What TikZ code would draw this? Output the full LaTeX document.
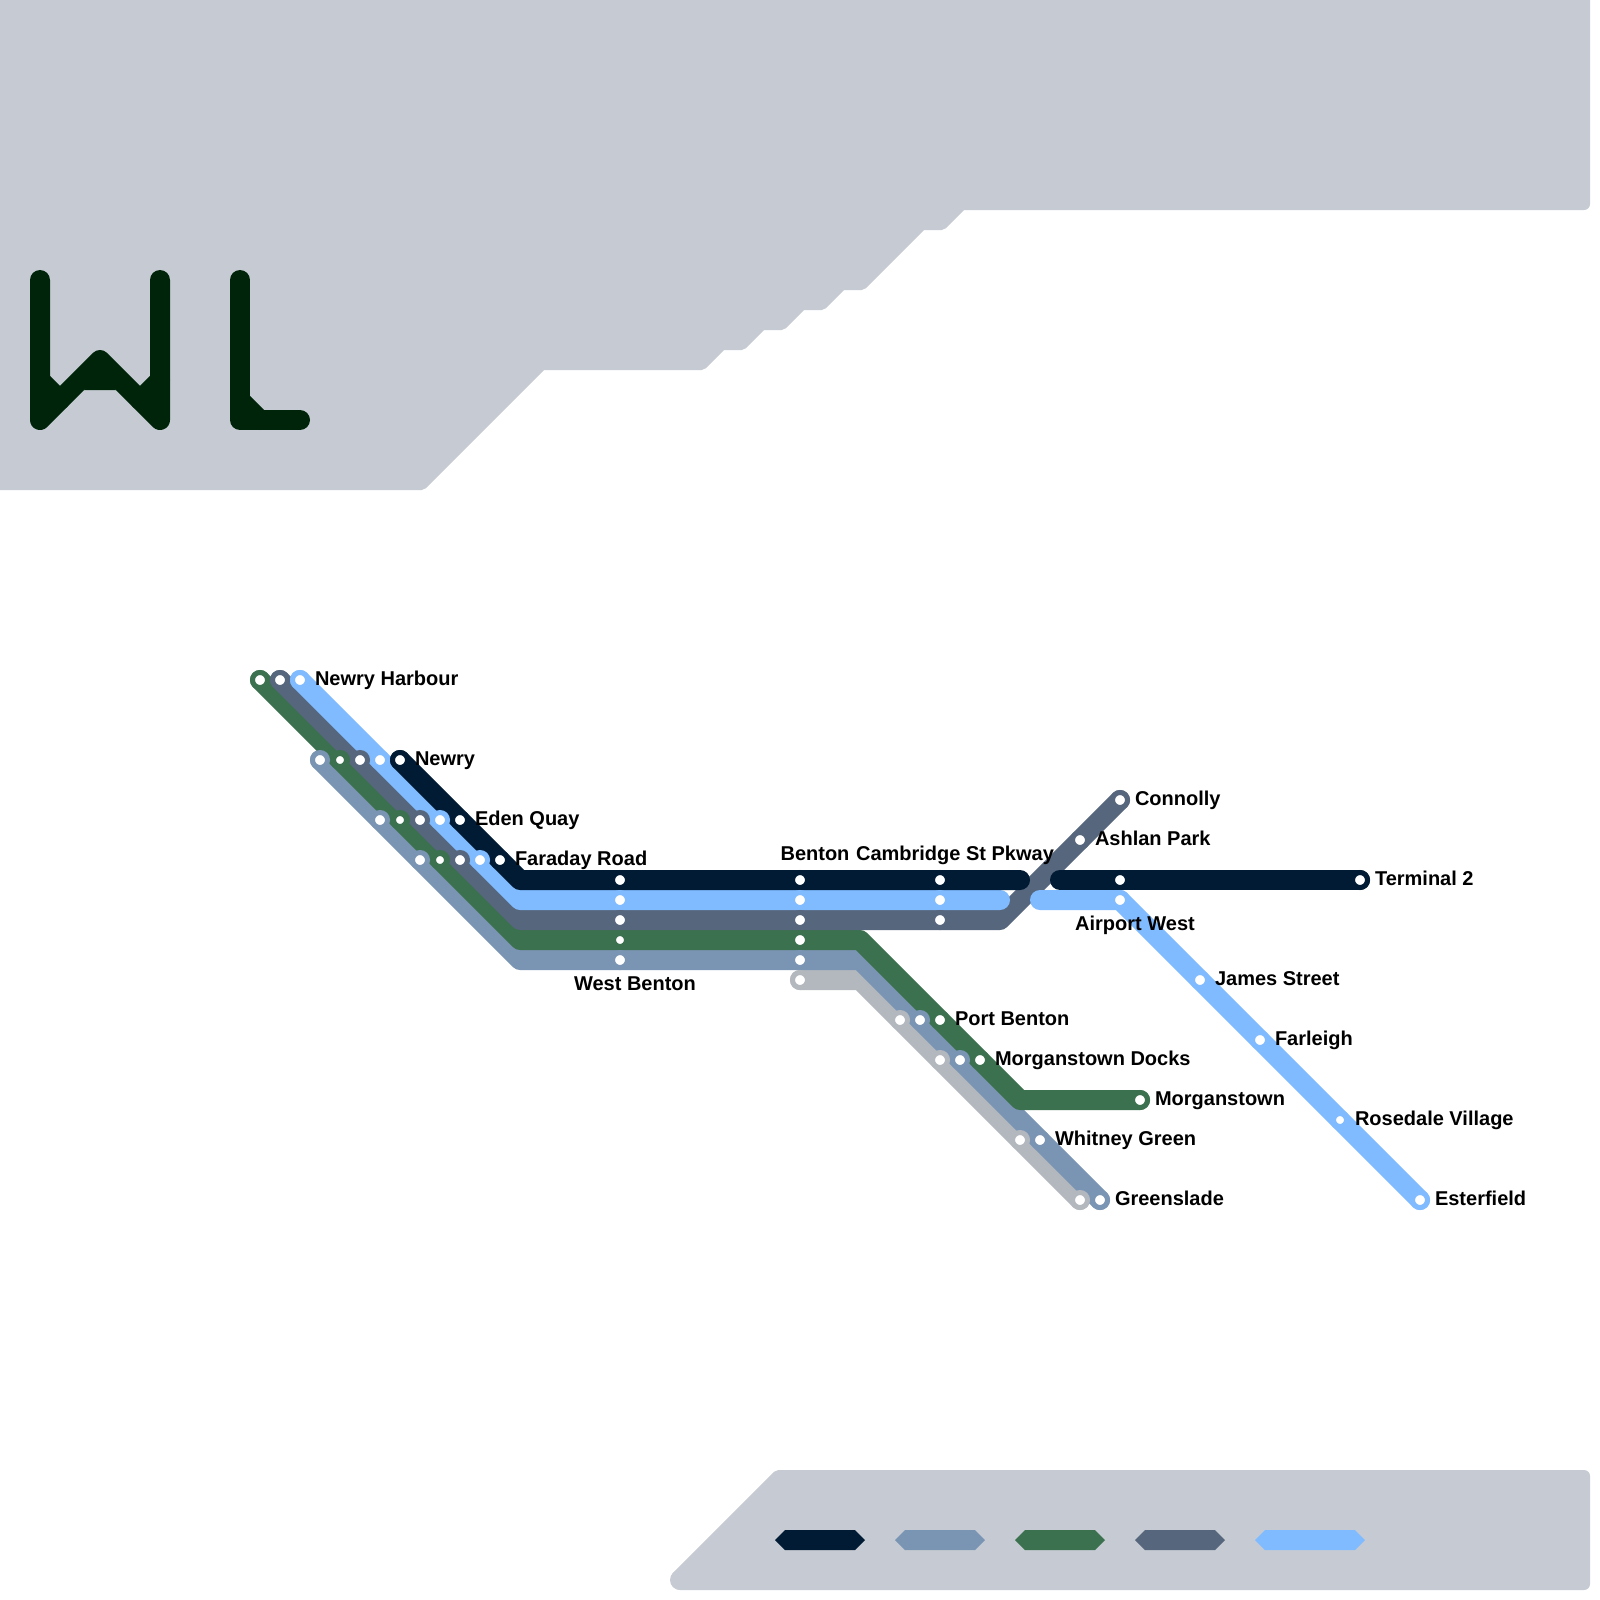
\documentclass[tikz,border=0pt]{standalone}
\usepackage{fontspec}
\setmainfont{Liberation Sans}
\usetikzlibrary{backgrounds}
\definecolor{navyline}{HTML}{001B33}
\definecolor{steelline}{HTML}{7A94B3}
\definecolor{greenline}{HTML}{3B714E}
\definecolor{slateline}{HTML}{56667D}
\definecolor{skyline}{HTML}{80BBFF}
\definecolor{greyline}{HTML}{B3B8BE}
\definecolor{panelgrey}{HTML}{C6CBD3}
\definecolor{logogreen}{HTML}{002409}
\tikzset{
	stop/.style={circle,fill=white,draw=#1,inner sep=0pt,outer sep=0pt,minimum size=15pt,line width=5pt},
	smallstop/.style={stop=#1,minimum size=14pt,line width=6pt},
	band/.style={line width=20pt,line cap=round,line join=round},
	panel/.style={fill=panelgrey,draw=panelgrey,line width=12pt,line join=round},
	swatch/.style={fill=#1,draw=none},
	stoptext/.style={inner sep=0pt,outer sep=0pt,font=\fontsize{20}{24}\selectfont\bfseries,anchor=base west},
	midtext/.style={stoptext,anchor=base},
}
\begin{document}
\begin{tikzpicture}[x=1pt,y=-1pt]
	\useasboundingbox (0,0) rectangle (1600,1600);
	% navy stops
	\node[stop=navyline] (navyNewry) at (400,760) {};
	\node[stop=navyline] (navyEden) at (460,820) {};
	\node[stop=navyline] (navyFaraday) at (500,860) {};
	\node[stop=navyline] (navyWest) at (620,880) {};
	\node[stop=navyline] (navyBenton) at (800,880) {};
	\node[stop=navyline] (navyCambridge) at (940,880) {};
	\node[stop=navyline] (navyAirport) at (1120,880) {};
	\node[stop=navyline] (navyTerminal) at (1360,880) {};
	% sky stops
	\node[stop=skyline] (skyHarbour) at (300,680) {};
	\node[stop=skyline] (skyNewry) at (380,760) {};
	\node[stop=skyline] (skyEden) at (440,820) {};
	\node[stop=skyline] (skyFaraday) at (480,860) {};
	\node[stop=skyline] (skyWest) at (620,900) {};
	\node[stop=skyline] (skyBenton) at (800,900) {};
	\node[stop=skyline] (skyCambridge) at (940,900) {};
	\node[stop=skyline] (skyAirport) at (1120,900) {};
	\node[stop=skyline] (skyJames) at (1200,980) {};
	\node[stop=skyline] (skyFarleigh) at (1260,1040) {};
	\node[smallstop=skyline] (skyRosedale) at (1340,1120) {};
	\node[stop=skyline] (skyEsterfield) at (1420,1200) {};
	% slate stops
	\node[stop=slateline] (slateHarbour) at (280,680) {};
	\node[stop=slateline] (slateNewry) at (360,760) {};
	\node[stop=slateline] (slateEden) at (420,820) {};
	\node[stop=slateline] (slateFaraday) at (460,860) {};
	\node[stop=slateline] (slateWest) at (620,920) {};
	\node[stop=slateline] (slateBenton) at (800,920) {};
	\node[stop=slateline] (slateCambridge) at (940,920) {};
	\node[stop=slateline] (slateAshlan) at (1080,840) {};
	\node[stop=slateline] (slateConnolly) at (1120,800) {};
	% green stops
	\node[stop=greenline] (greenHarbour) at (260,680) {};
	\node[smallstop=greenline] (greenNewry) at (340,760) {};
	\node[smallstop=greenline] (greenEden) at (400,820) {};
	\node[smallstop=greenline] (greenFaraday) at (440,860) {};
	\node[smallstop=greenline] (greenWest) at (620,940) {};
	\node[stop=greenline] (greenBenton) at (800,940) {};
	\node[stop=greenline] (greenPort) at (940,1020) {};
	\node[stop=greenline] (greenDocks) at (980,1060) {};
	\node[stop=greenline] (greenTown) at (1140,1100) {};
	% steel stops
	\node[stop=steelline] (steelNewry) at (320,760) {};
	\node[stop=steelline] (steelEden) at (380,820) {};
	\node[stop=steelline] (steelFaraday) at (420,860) {};
	\node[stop=steelline] (steelWest) at (620,960) {};
	\node[stop=steelline] (steelBenton) at (800,960) {};
	\node[stop=steelline] (steelPort) at (920,1020) {};
	\node[stop=steelline] (steelDocks) at (960,1060) {};
	\node[stop=steelline] (steelWhitney) at (1040,1140) {};
	\node[stop=steelline] (steelGreenslade) at (1100,1200) {};
	% grey stops
	\node[stop=greyline] (greyBenton) at (800,980) {};
	\node[stop=greyline] (greyPort) at (900,1020) {};
	\node[stop=greyline] (greyDocks) at (940,1060) {};
	\node[stop=greyline] (greyWhitney) at (1020,1140) {};
	\node[stop=greyline] (greyGreenslade) at (1080,1200) {};
	% free ends and bends of the lines
	\coordinate (navyBendA) at (520,880);
	\coordinate (navyEndA) at (1020,880);
	\coordinate (navyEndB) at (1060,880);
	\coordinate (skyBendA) at (520,900);
	\coordinate (skyEndA) at (1000,900);
	\coordinate (skyEndB) at (1040,900);
	\coordinate (slateBendA) at (520,920);
	\coordinate (slateBendB) at (1000,920);
	\coordinate (greenBendA) at (520,940);
	\coordinate (greenBendB) at (860,940);
	\coordinate (greenBendC) at (1020,1100);
	\coordinate (steelBendA) at (520,960);
	\coordinate (steelBendB) at (860,960);
	\coordinate (greyBendA) at (860,980);
	% station names
	\node[stoptext] (txtHarbour) at (315,685) {Newry Harbour};
	\node[stoptext] (txtNewry) at (415,765) {Newry};
	\node[stoptext] (txtEden) at (475,825) {Eden Quay};
	\node[stoptext] (txtFaraday) at (515,865) {Faraday Road};
	\node[midtext] (txtWest) at (635,990) {West Benton};
	\node[midtext] (txtBenton) at (815,860) {Benton};
	\node[midtext] (txtCambridge) at (955,860) {Cambridge St Pkway};
	\node[stoptext] (txtConnolly) at (1135,805) {Connolly};
	\node[stoptext] (txtAshlan) at (1095,845) {Ashlan Park};
	\node[stoptext] (txtTerminal) at (1375,885) {Terminal 2};
	\node[midtext] (txtAirport) at (1135,930) {Airport West};
	\node[stoptext] (txtJames) at (1215,985) {James Street};
	\node[stoptext] (txtFarleigh) at (1275,1045) {Farleigh};
	\node[stoptext] (txtRosedale) at (1355,1125) {Rosedale Village};
	\node[stoptext] (txtEsterfield) at (1435,1205) {Esterfield};
	\node[stoptext] (txtPort) at (955,1025) {Port Benton};
	\node[stoptext] (txtDocks) at (995,1065) {Morganstown Docks};
	\node[stoptext] (txtTown) at (1155,1105) {Morganstown};
	\node[stoptext] (txtWhitney) at (1055,1145) {Whitney Green};
	\node[stoptext] (txtGreenslade) at (1115,1205) {Greenslade};
	\begin{scope}[on background layer]
		\fill[white] (0,0) rectangle (1600,1600);
		% panels
		\path[panel] (-20,-20) -- (1584,-20) -- (1584,204) -- (961.66,204) -- (941.66,224) -- (921.66,224)
		-- (861.66,284) -- (841.66,284) -- (821.66,304) -- (801.66,304) -- (781.66,324) -- (761.66,324)
		-- (741.66,344) -- (721.66,344) -- (701.66,364) -- (541.66,364) -- (421.66,484) -- (-20,484) -- cycle;
		\path[panel] (778.34,1476) -- (1584,1476) -- (1584,1584) -- (680,1584) -- (677.17,1577.17) -- cycle;
		\fill[panelgrey] (680,1580) circle (10);
		% legend
		\fill[swatch=navyline] (775,1540) -- (785,1530) -- (855,1530) -- (865,1540) -- (855,1550) -- (785,1550) -- cycle;
		\fill[swatch=steelline] (895,1540) -- (905,1530) -- (975,1530) -- (985,1540) -- (975,1550) -- (905,1550) -- cycle;
		\fill[swatch=greenline] (1015,1540) -- (1025,1530) -- (1095,1530) -- (1105,1540) -- (1095,1550) -- (1025,1550) -- cycle;
		\fill[swatch=slateline] (1135,1540) -- (1145,1530) -- (1215,1530) -- (1225,1540) -- (1215,1550) -- (1145,1550) -- cycle;
		\fill[swatch=skyline] (1255,1540) -- (1265,1530) -- (1355,1530) -- (1365,1540) -- (1355,1550) -- (1265,1550) -- cycle;
		% logo
		\draw[band,logogreen] (40,280) -- (40,420) -- (100,360) -- (160,420) -- (160,280);
		\draw[band,logogreen] (40,380) -- (60,400);
		\draw[band,logogreen] (160,380) -- (140,400);
		\fill[logogreen] (84,390) -- (116,390) -- (100,370) -- cycle;
		\draw[band,logogreen] (240,280) -- (240,420) -- (300,420);
		\draw[band,logogreen] (240,400) -- (260,420);
		% lines
		\draw[band,greyline] (greyBenton.center) -- (greyBendA) -- (greyGreenslade.center);
		\draw[band,steelline] (steelNewry.center) -- (steelBendA) -- (steelBendB) -- (steelGreenslade.center);
		\draw[band,greenline] (greenHarbour.center) -- (greenBendA) -- (greenBendB) -- (greenBendC) -- (greenTown.center);
		\draw[band,slateline] (slateHarbour.center) -- (slateBendA) -- (slateBendB) -- (slateConnolly.center);
		\draw[band,skyline] (skyHarbour.center) -- (skyBendA) -- (skyEndA);
		\draw[band,skyline] (skyEndB) -- (skyAirport.center) -- (skyEsterfield.center);
		\draw[band,navyline] (navyNewry.center) -- (navyBendA) -- (navyEndA);
		\draw[band,navyline] (navyEndB) -- (navyTerminal.center);
	\end{scope}
\end{tikzpicture}
\end{document}
